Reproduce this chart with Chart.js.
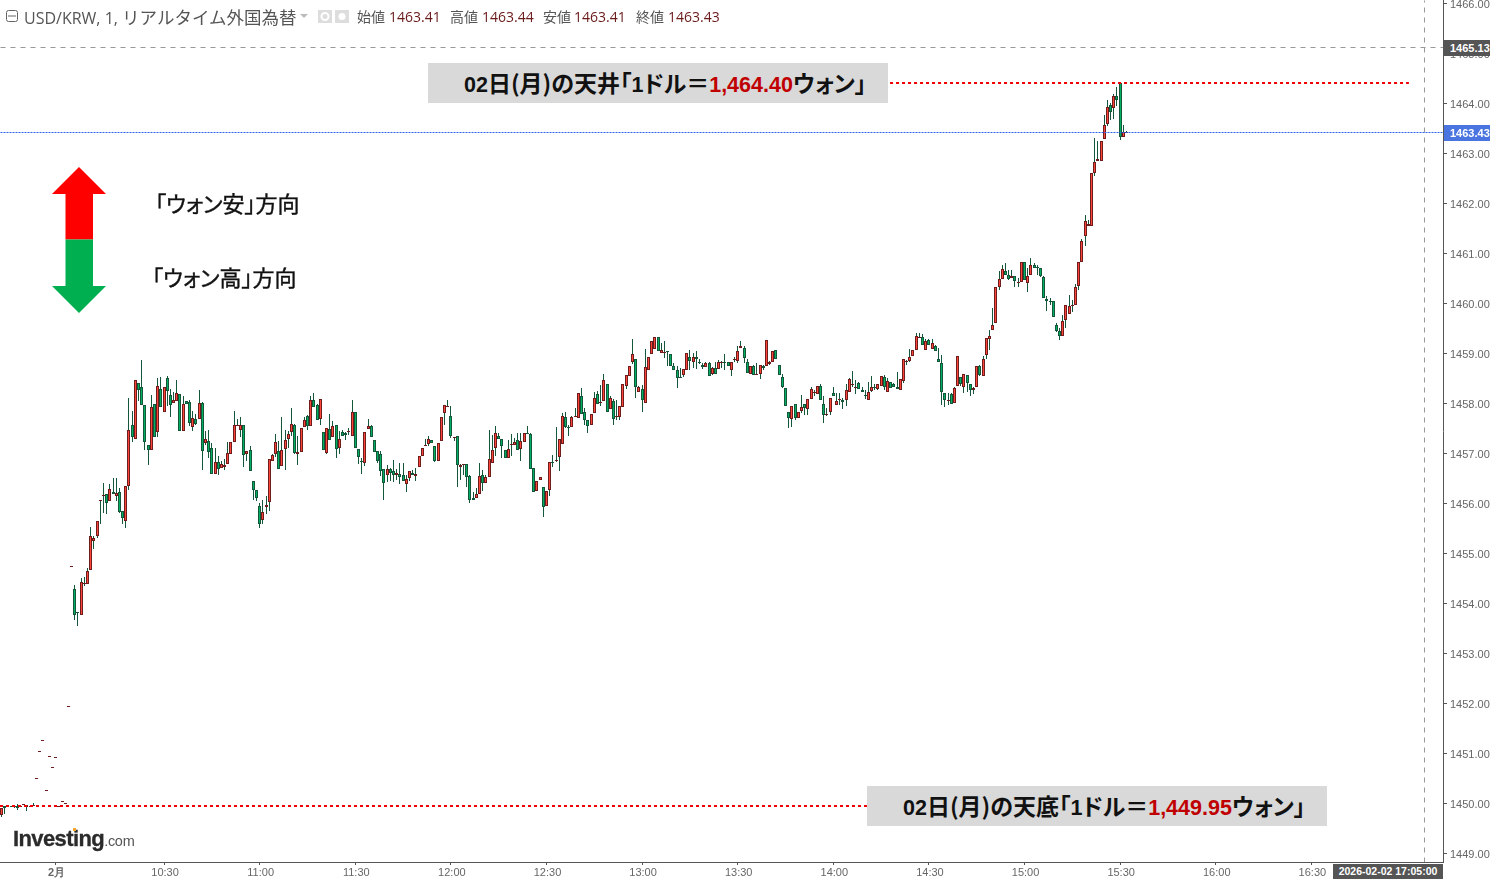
<!DOCTYPE html>
<html lang="ja">
<head>
<meta charset="utf-8">
<title>USD/KRW</title>
<script src="https://cdn.jsdelivr.net/npm/chart.js@4/dist/chart.umd.min.js"></script>
<style>
  html, body { margin: 0; padding: 0; background: #fff; overflow: hidden; }
  #wrap { position: relative; width: 1490px; height: 879px; }
  #chart { position: absolute; left: 0; top: 0; }
  .t { position: absolute; white-space: nowrap; line-height: 1; }
  .head { font: 16px "Open Sans", "Noto Sans CJK JP", sans-serif; color: #555; top: 4px; }
  .head i { font-style: normal; font-size: 17.5px; }
  .lbl { font: 14px "Noto Sans CJK JP", sans-serif; color: #555; top: 6px; }
  .val { font: 14px "Open Sans", sans-serif; color: #6b1a1a; top: 7px; }
  .box { position: absolute; background: #d9d9d9; width: 460px; height: 40px; }
  .note { font: 700 23px "Noto Sans CJK JP", sans-serif; color: #111; font-feature-settings: "palt"; }
  .note b { color: #c00000; font: 700 21.5px "Liberation Sans", sans-serif; }
  .note u { text-decoration: none; font: 700 21.5px "Liberation Sans", sans-serif; }
  .side { font: 400 22px "Noto Sans CJK JP", sans-serif; color: #111; font-feature-settings: "palt"; -webkit-text-stroke: 0.4px #111; }
  .tag { position: absolute; left: 1444px; width: 46px; height: 16px; color: #fff; overflow: hidden;
         font: bold 11px/17px "Liberation Sans", sans-serif; padding-left: 6px; box-sizing: border-box; }
</style>
</head>
<body>
<div id="wrap">
  <canvas id="chart" width="1490" height="879"></canvas>

  <svg class="t" style="left:0;top:0" width="360" height="320" xmlns="http://www.w3.org/2000/svg">
    <rect x="6.5" y="10.5" width="11" height="11" rx="2" fill="none" stroke="#666"/>
    <line x1="8" y1="16" x2="16" y2="16" stroke="#666"/>
    <polygon points="300,14 308,14 304,18" fill="#bbb"/>
    <rect x="318" y="10" width="14" height="13" fill="#ddd"/>
    <circle cx="325" cy="16.5" r="3.5" fill="none" stroke="#fff" stroke-width="2"/>
    <rect x="335" y="10" width="14" height="13" fill="#ddd"/>
    <circle cx="342" cy="16.5" r="3.5" fill="#fff"/>
    <polygon points="79,167 106,194 93,194 93,239.5 65.5,239.5 65.5,194 52,194" fill="#ff0000"/>
    <polygon points="79,313 106,286 93,286 93,239.5 65.5,239.5 65.5,286 52,286" fill="#00b050"/>
  </svg>

  <span class="t head" style="left:24px">USD/KRW, 1, <i>リアルタイム外国為替</i></span>
  <span class="t lbl" style="left:357px">始値</span><span class="t val" style="left:389px">1463.41</span>
  <span class="t lbl" style="left:450px">高値</span><span class="t val" style="left:482px">1463.44</span>
  <span class="t lbl" style="left:543px">安値</span><span class="t val" style="left:574px">1463.41</span>
  <span class="t lbl" style="left:636px">終値</span><span class="t val" style="left:668px">1463.43</span>

  <div class="box" style="left:428px;top:63px"></div>
  <span class="t note" style="left:464px;top:65px"><u>02</u>日(月)の天井「<u>1</u>ドル＝<b>1,464.40</b>ウォン」</span>
  <div class="box" style="left:867px;top:786px"></div>
  <span class="t note" style="left:903px;top:788px"><u>02</u>日(月)の天底「<u>1</u>ドル＝<b>1,449.95</b>ウォン」</span>

  <span class="t side" style="left:155px;top:186px">「ウォン安」方向</span>
  <span class="t side" style="left:152px;top:260px">「ウォン高」方向</span>

  <span class="t" style="left:13px;top:826px;font:bold 22px 'Liberation Sans',sans-serif;letter-spacing:-0.6px;color:#2b2b2b;-webkit-text-stroke:0.3px #2b2b2b">Investing<span style="font:14.5px 'Liberation Sans',sans-serif;letter-spacing:-0.3px;color:#555;-webkit-text-stroke:0">.com</span></span>
  <div class="t" style="left:73px;top:828px;width:3px;height:3px;background:#f5a623"></div>

  <div class="tag" style="top:40px;background:#555">1465.13</div>
  <div class="tag" style="top:125px;background:#4a74e0">1463.43</div>
  <div class="t" style="left:1333px;top:864px;width:110px;height:15px;background:#555;color:#fff;font:bold 10.5px/15px 'Liberation Sans',sans-serif;text-align:center">2026-02-02 17:05:00</div>
</div>

<script>
// 1分足 USD/KRW 02日(月) 画像から読み取り
const opens = [
1449.77,1449.94,1449.92,1449.94,1449.94,1449.94,1449.94,1449.98,1449.92,1449.94,
1449.94,1450.49,1451.03,1451.25,1450.25,1450.93,1450.71,1450.91,1449.94,1450.03,
1449.99,1451.93,1454.73,1454.28,1453.84,1453.76,1454.38,1454.38,1454.66,1455.24,
1455.36,1456.04,1456.15,1456.19,1456.04,1456.22,1456.14,1456.22,1455.85,1455.64,
1456.36,1457.56,1457.28,1458.40,1458.34,1457.96,1457.16,1457.08,1457.98,1457.42,
1458.28,1457.82,1458.50,1458.16,1458.00,1458.04,1458.18,1457.44,1458.04,1458.02,
1457.52,1457.68,1457.68,1458.00,1457.20,1457.24,1457.12,1456.60,1456.84,1456.70,
1456.72,1456.78,1456.98,1457.22,1457.56,1457.46,1457.56,1456.98,1457.06,1456.44,
1456.26,1455.94,1455.66,1455.92,1456.02,1456.86,1456.98,1457.04,1456.74,1457.10,
1457.28,1457.42,1457.58,1456.98,1457.02,1457.52,1457.74,1457.54,1458.06,1457.96,
1457.68,1457.42,1457.00,1457.48,1457.34,1457.56,1457.12,1457.42,1457.40,1457.43,
1457.36,1457.84,1457.10,1456.86,1456.80,1457.48,1457.54,1457.26,1457.05,1456.98,
1456.68,1456.56,1456.68,1456.64,1456.58,1456.60,1456.58,1456.38,1456.50,1456.62,
1456.54,1456.72,1456.94,1457.14,1457.18,1457.26,1457.14,1456.86,1457.24,1457.80,
1457.94,1457.74,1457.32,1457.36,1456.72,1456.77,1456.78,1456.54,1456.12,1456.12,
1456.18,1456.56,1456.40,1456.52,1456.80,1457.12,1457.36,1457.28,1457.08,1456.90,
1457.16,1457.16,1457.26,1457.10,1457.22,1457.40,1457.38,1456.70,1456.24,1456.46,
1456.32,1455.94,1456.26,1456.82,1456.86,1456.92,1457.18,1457.72,1457.52,1457.52,
1457.72,1457.70,1458.14,1457.82,1457.66,1457.56,1457.80,1458.18,1458.00,1458.04,
1458.38,1457.88,1458.04,1457.73,1457.72,1457.92,1458.36,1458.54,1458.84,1458.88,
1458.22,1458.28,1458.00,1458.66,1458.98,1459.10,1459.32,1459.00,1459.01,1459.04,
1458.99,1458.74,1458.66,1458.52,1458.58,1458.66,1458.92,1458.82,1458.92,1458.84,
1458.76,1458.72,1458.80,1458.60,1458.70,1458.68,1458.83,1458.84,1458.82,1458.66,
1458.87,1458.86,1459.12,1459.12,1458.84,1458.60,1458.74,1458.59,1458.60,1458.74,
1458.74,1458.78,1458.82,1459.06,1458.76,1458.52,1458.30,1457.84,1457.68,1457.98,
1457.70,1457.86,1457.98,1457.88,1458.10,1458.20,1458.18,1458.36,1457.98,1457.77,
1457.82,1458.20,1457.96,1458.06,1458.06,1458.06,1458.22,1458.38,1458.32,1458.40,
1458.26,1458.16,1458.08,1458.24,1458.32,1458.28,1458.36,1458.52,1458.22,1458.42,
1458.38,1458.34,1458.26,1458.44,1458.85,1458.86,1458.94,1459.06,1459.30,1459.34,
1459.08,1459.26,1459.10,1459.14,1458.88,1458.80,1458.20,1458.04,1458.18,1458.00,
1458.36,1458.52,1458.34,1458.56,1458.38,1458.26,1458.32,1458.74,1458.54,1458.96,
1459.28,1459.46,1459.62,1460.34,1460.48,1460.64,1460.58,1460.50,1460.54,1460.41,
1460.42,1460.82,1460.40,1460.56,1460.76,1460.72,1460.70,1460.52,1460.10,1460.04,
1460.04,1459.58,1459.44,1459.36,1459.66,1459.78,1459.94,1459.96,1460.36,1460.82,
1461.36,1461.55,1461.55,1462.62,1462.86,1462.86,1463.28,1463.60,1463.96,1463.90,
1464.14,1464.40,1463.32,1463.41];
const highs = [
1449.90,1449.94,1449.96,1449.94,1449.95,1449.98,1449.95,1449.99,1449.96,1449.95,
1450.00,1450.50,1451.04,1451.26,1450.26,1450.94,1450.72,1450.92,1449.95,1450.04,
1450.00,1451.94,1454.74,1454.37,1453.84,1454.50,1454.52,1454.70,1455.52,1455.35,
1455.64,1456.08,1456.40,1456.19,1456.38,1456.50,1456.50,1456.30,1455.85,1456.36,
1458.11,1457.85,1458.46,1458.40,1458.87,1457.96,1457.16,1458.17,1457.98,1458.51,
1458.52,1458.34,1458.55,1458.28,1458.22,1458.46,1458.18,1458.15,1458.04,1458.06,
1457.85,1457.78,1458.27,1458.03,1457.45,1457.47,1457.20,1457.11,1456.94,1456.86,
1456.89,1457.22,1457.22,1457.86,1457.69,1457.72,1457.56,1457.04,1457.14,1456.44,
1456.26,1456.00,1456.06,1456.15,1456.88,1456.99,1457.39,1457.25,1457.73,1457.47,
1457.45,1457.90,1457.60,1457.36,1457.50,1457.72,1457.77,1458.14,1458.20,1457.99,
1458.10,1457.42,1457.50,1457.79,1457.64,1457.58,1457.44,1457.46,1457.43,1457.50,
1458.07,1457.84,1457.10,1456.90,1457.42,1457.68,1457.57,1457.26,1457.05,1457.04,
1456.68,1456.77,1456.70,1456.87,1456.68,1456.80,1456.80,1456.57,1456.64,1456.67,
1456.70,1456.94,1457.12,1457.28,1457.35,1457.26,1457.14,1457.20,1457.72,1457.96,
1458.08,1457.95,1457.34,1457.36,1456.78,1456.78,1456.78,1456.57,1456.22,1456.30,
1456.80,1456.67,1456.57,1457.47,1457.37,1457.55,1457.40,1457.28,1457.08,1457.27,
1457.39,1457.30,1457.40,1457.40,1457.40,1457.55,1457.40,1456.70,1456.44,1456.52,
1456.32,1456.24,1456.84,1456.97,1457.53,1457.28,1457.80,1457.82,1457.57,1457.75,
1457.90,1458.20,1458.30,1457.90,1457.66,1457.78,1458.23,1458.24,1458.37,1458.60,
1458.38,1458.14,1458.10,1458.08,1457.94,1458.38,1458.58,1458.74,1459.28,1458.88,
1458.36,1458.37,1459.10,1458.92,1459.24,1459.32,1459.32,1459.20,1459.25,1459.05,
1458.99,1458.80,1458.74,1458.70,1458.68,1459.00,1459.08,1459.00,1459.04,1458.88,
1458.80,1458.84,1458.82,1458.72,1458.82,1458.87,1458.86,1458.99,1458.84,1458.82,
1458.92,1459.14,1459.25,1459.14,1458.88,1458.74,1458.76,1458.80,1458.76,1458.76,
1459.26,1458.86,1459.04,1459.08,1458.76,1458.60,1458.30,1457.84,1457.94,1457.98,
1457.84,1458.17,1457.98,1458.10,1458.34,1458.26,1458.36,1458.38,1458.14,1457.90,
1458.12,1458.33,1458.20,1458.20,1458.12,1458.38,1458.50,1458.65,1458.46,1458.42,
1458.32,1458.27,1458.42,1458.55,1458.38,1458.38,1458.54,1458.56,1458.50,1458.42,
1458.40,1458.63,1458.48,1458.88,1458.87,1459.10,1459.06,1459.40,1459.40,1459.38,
1459.28,1459.28,1459.28,1459.16,1459.12,1458.96,1458.20,1458.20,1458.20,1458.32,
1458.94,1458.52,1458.60,1458.58,1458.38,1458.32,1458.74,1458.76,1458.94,1459.30,
1459.46,1459.90,1460.32,1460.64,1460.77,1460.80,1460.67,1460.66,1460.54,1460.50,
1460.84,1460.84,1460.70,1460.90,1460.80,1460.77,1460.70,1460.54,1460.15,1460.12,
1460.04,1459.62,1459.50,1459.76,1459.96,1460.16,1460.08,1460.39,1460.82,1461.29,
1461.77,1461.67,1462.62,1463.30,1463.25,1463.24,1463.76,1464.07,1464.00,1464.18,
1464.32,1464.40,1463.56,1463.44];
const lows = [
1449.73,1449.79,1449.92,1449.92,1449.90,1449.87,1449.94,1449.98,1449.86,1449.94,
1449.94,1450.49,1451.03,1451.25,1450.25,1450.93,1450.71,1450.91,1449.94,1450.03,
1449.99,1451.93,1454.73,1453.67,1453.55,1453.76,1454.35,1454.38,1454.66,1455.09,
1455.30,1455.60,1455.80,1455.78,1456.04,1456.18,1456.04,1455.80,1455.60,1455.50,
1456.27,1457.22,1457.28,1458.04,1457.96,1457.06,1456.76,1457.08,1457.34,1457.34,
1457.92,1457.82,1457.94,1457.72,1458.00,1458.04,1457.44,1457.44,1457.98,1457.55,
1457.45,1457.58,1457.68,1456.67,1457.16,1456.90,1456.60,1456.60,1456.56,1456.70,
1456.67,1456.78,1456.98,1457.22,1457.56,1457.34,1456.72,1456.85,1456.64,1456.06,
1456.05,1455.50,1455.59,1455.78,1455.86,1456.86,1456.92,1456.68,1456.74,1456.66,
1457.12,1457.35,1456.98,1456.77,1457.02,1457.52,1457.47,1457.54,1457.92,1457.66,
1457.57,1457.06,1456.98,1457.26,1457.34,1456.91,1456.98,1457.35,1457.26,1457.37,
1457.36,1457.12,1456.79,1456.60,1456.74,1457.48,1457.32,1457.02,1456.80,1456.55,
1456.06,1456.42,1456.44,1456.42,1456.46,1456.39,1456.44,1456.22,1456.44,1456.56,
1456.44,1456.72,1456.94,1457.14,1457.14,1457.20,1456.84,1456.86,1457.24,1457.57,
1457.94,1457.30,1457.24,1456.32,1456.46,1456.57,1456.34,1456.00,1456.08,1456.12,
1456.18,1456.24,1456.40,1456.52,1456.80,1456.95,1457.28,1456.90,1456.90,1456.90,
1456.94,1457.16,1457.08,1456.86,1457.22,1457.39,1456.68,1456.22,1456.24,1456.46,
1455.72,1455.94,1456.14,1456.72,1456.84,1456.64,1457.18,1457.50,1457.36,1457.52,
1457.72,1457.70,1457.78,1457.57,1457.40,1457.56,1457.80,1457.98,1457.95,1458.04,
1457.84,1457.88,1457.58,1457.66,1457.66,1457.92,1458.28,1458.54,1458.78,1458.12,
1458.22,1457.84,1458.00,1458.66,1458.98,1459.10,1459.04,1459.00,1458.90,1458.75,
1458.74,1458.66,1458.30,1458.50,1458.52,1458.66,1458.67,1458.70,1458.68,1458.78,
1458.68,1458.72,1458.54,1458.56,1458.60,1458.68,1458.70,1458.66,1458.74,1458.55,
1458.82,1458.80,1459.12,1458.80,1458.62,1458.60,1458.56,1458.59,1458.49,1458.66,
1458.74,1458.76,1458.82,1458.88,1458.56,1458.30,1457.94,1457.50,1457.52,1457.66,
1457.70,1457.80,1457.76,1457.76,1458.10,1458.14,1458.18,1458.06,1457.62,1457.74,
1457.76,1458.14,1457.96,1457.96,1457.88,1457.94,1458.22,1458.33,1458.18,1458.28,
1458.22,1458.09,1458.06,1458.22,1458.26,1458.26,1458.36,1458.26,1458.22,1458.30,
1458.32,1458.28,1458.26,1458.40,1458.76,1458.84,1458.94,1459.06,1459.30,1459.16,
1459.08,1459.16,1459.10,1459.04,1458.82,1457.96,1457.92,1457.96,1457.98,1458.00,
1458.36,1458.36,1458.21,1458.22,1458.14,1458.18,1458.32,1458.54,1458.54,1458.88,
1459.06,1459.46,1459.62,1460.26,1460.48,1460.56,1460.46,1460.50,1460.32,1460.32,
1460.42,1460.46,1460.22,1460.56,1460.70,1460.57,1460.52,1460.12,1459.86,1459.96,
1459.72,1459.42,1459.26,1459.36,1459.50,1459.78,1459.84,1459.96,1460.27,1460.82,
1461.14,1461.55,1461.55,1462.55,1462.86,1462.86,1463.28,1463.54,1463.67,1463.68,
1463.95,1463.26,1463.32,1463.41];
const closes = [
1449.90,1449.90,1449.96,1449.92,1449.95,1449.90,1449.95,1449.99,1449.96,1449.95,
1449.97,1450.50,1451.04,1451.26,1450.26,1450.94,1450.72,1450.92,1449.95,1450.04,
1450.00,1451.94,1454.74,1453.76,1453.82,1454.42,1454.40,1454.64,1455.36,1455.30,
1455.64,1456.08,1456.16,1456.00,1456.28,1456.18,1456.20,1455.84,1455.70,1456.36,
1457.46,1457.32,1458.46,1458.26,1457.96,1457.22,1457.08,1457.92,1457.34,1458.36,
1457.92,1458.34,1458.25,1457.96,1458.06,1458.20,1457.44,1457.98,1457.98,1457.62,
1457.70,1457.60,1458.00,1457.04,1457.28,1457.02,1456.60,1456.82,1456.68,1456.78,
1456.77,1457.00,1457.22,1457.58,1457.58,1457.58,1456.96,1457.04,1456.64,1456.26,
1456.12,1455.60,1455.84,1455.96,1456.88,1456.96,1457.22,1456.68,1457.06,1457.26,
1457.38,1457.60,1457.00,1457.02,1457.50,1457.66,1457.54,1458.08,1457.92,1457.66,
1458.10,1457.06,1457.50,1457.26,1457.54,1457.10,1457.28,1457.35,1457.37,1457.44,
1457.84,1457.12,1456.92,1456.82,1457.42,1457.54,1457.32,1457.02,1456.86,1456.64,
1456.40,1456.68,1456.62,1456.58,1456.62,1456.52,1456.44,1456.48,1456.64,1456.56,
1456.60,1456.94,1457.12,1457.16,1457.28,1457.20,1456.86,1457.20,1457.72,1457.96,
1457.95,1457.36,1457.34,1456.76,1456.76,1456.78,1456.52,1456.08,1456.08,1456.18,
1456.54,1456.40,1456.52,1456.88,1457.08,1457.40,1457.28,1457.14,1456.90,1457.10,
1457.18,1457.22,1457.08,1457.24,1457.40,1457.39,1456.68,1456.22,1456.44,1456.52,
1455.92,1456.24,1456.84,1456.80,1456.87,1457.28,1457.74,1457.52,1457.50,1457.72,
1457.75,1458.20,1457.78,1457.67,1457.54,1457.78,1458.12,1457.98,1458.02,1458.46,
1457.84,1458.12,1457.68,1457.74,1457.94,1458.38,1458.58,1458.74,1458.98,1458.32,
1458.34,1458.08,1458.72,1458.92,1459.24,1459.32,1459.04,1459.06,1459.02,1459.03,
1458.74,1458.66,1458.50,1458.50,1458.68,1459.00,1458.86,1458.92,1458.88,1458.80,
1458.72,1458.80,1458.54,1458.70,1458.60,1458.82,1458.84,1458.82,1458.74,1458.82,
1458.88,1459.04,1459.14,1458.90,1458.62,1458.74,1458.56,1458.60,1458.76,1458.70,
1459.26,1458.82,1459.04,1458.88,1458.56,1458.34,1457.94,1457.70,1457.94,1457.70,
1457.84,1457.92,1457.90,1458.10,1458.28,1458.22,1458.36,1458.06,1457.76,1457.78,
1458.12,1458.14,1458.04,1458.10,1458.02,1458.26,1458.48,1458.39,1458.34,1458.28,
1458.22,1458.14,1458.22,1458.32,1458.30,1458.38,1458.54,1458.34,1458.44,1458.30,
1458.34,1458.28,1458.48,1458.88,1458.86,1458.92,1459.06,1459.36,1459.34,1459.16,
1459.24,1459.16,1459.20,1459.04,1458.84,1458.22,1458.06,1458.08,1457.98,1458.30,
1458.94,1458.38,1458.60,1458.40,1458.26,1458.30,1458.74,1458.56,1458.88,1459.30,
1459.36,1459.56,1460.32,1460.48,1460.68,1460.56,1460.48,1460.54,1460.44,1460.42,
1460.84,1460.46,1460.54,1460.76,1460.70,1460.71,1460.54,1460.12,1460.04,1460.03,
1459.72,1459.44,1459.36,1459.64,1459.96,1459.94,1459.96,1460.34,1460.82,1461.24,
1461.64,1461.60,1462.62,1462.84,1462.88,1463.24,1463.58,1463.92,1463.84,1464.14,
1464.08,1463.34,1463.42,1463.43];

// 目盛り
const priceTicks = [1449,1450,1451,1452,1453,1454,1455,1456,1457,1458,1459,1460,1461,1462,1463,1464,1465,1466];
const timeTickIndex = [17,51,81,111,141,171,201,231,261,291,321,351,381,411];
const timeTickLabels = ['2月','10:30','11:00','11:30','12:00','12:30','13:00','13:30','14:00','14:30','15:00','15:30','16:00','16:30'];

// 水平線・カーソル
const ceilingPrice = 1464.40;
const floorPrice = 1449.95;
const lastPrice = 1463.43;
const cursorPrice = 1465.13;
const cursorIndex = 446.5;
const xMin = -0.47, xMax = 452.3;
const yMin = 1448.83, yMax = 1466.07;

const UP_FILL = '#ff4438', UP_EDGE = '#6e1c1c';
const DOWN_FILL = '#00b060', DOWN_EDGE = '#14563a';
const WICK = '#14563a';

const wickData = highs.map((h, i) => ({ x: i, y: [lows[i], h] }));
const bodyData = opens.map((o, i) => ({ x: i, y: [o, closes[i]] }));

function hLine(price, from, to, color, width, dash) {
    return {
        type: 'line', order: 0,
        data: [{ x: from, y: price }, { x: to, y: price }],
        borderColor: color, borderWidth: width, borderDash: dash,
        pointRadius: 0, tension: 0
    };
}

// ローソク足と線をピクセルに揃える
const snapPlugin = {
    id: 'snap',
    afterDatasetsUpdate(chart) {
        chart.data.datasets.forEach((ds, d) => {
            const meta = chart.getDatasetMeta(d);
            meta.data.forEach(el => {
                if (meta.type === 'bar') {
                    el.x = Math.floor(el.x) + 0.5;
                    const top = Math.round(Math.min(el.y, el.base));
                    let bottom = Math.round(Math.max(el.y, el.base));
                    if (bottom <= top) bottom = top + 1;
                    el.y = top;
                    el.base = bottom;
                    el.height = bottom - top;
                } else if (ds.borderWidth === 2) {
                    el.y = Math.round(el.y);
                } else {
                    el.x = Math.floor(el.x) + 0.5;
                    el.y = Math.round(el.y) + 0.5;
                }
            });
        });
    }
};

new Chart(document.getElementById('chart').getContext('2d'), {
    type: 'bar',
    data: {
        datasets: [
            hLine(ceilingPrice, 278.8, 441.6, '#f00000', 2, [3, 3]),
            hLine(floorPrice, xMin, 271.6, '#f00000', 2, [3, 3]),
            hLine(lastPrice, xMin, xMax, '#2a62f0', 1, [2, 1]),
            hLine(cursorPrice, xMin, xMax, '#999999', 1, [5, 5]),
            {
                type: 'line', order: 0,
                data: [{ x: cursorIndex, y: yMin }, { x: cursorIndex, y: yMax }],
                borderColor: '#999999', borderWidth: 1, borderDash: [5, 5],
                pointRadius: 0, tension: 0
            },
            {
                order: 1,
                data: bodyData,
                barThickness: 3,
                borderWidth: 1,
                borderSkipped: false,
                inflateAmount: 0,
                backgroundColor: c => closes[c.dataIndex] >= opens[c.dataIndex] ? UP_FILL : DOWN_FILL,
                borderColor: c => closes[c.dataIndex] >= opens[c.dataIndex] ? UP_EDGE : DOWN_EDGE
            },
            {
                order: 2,
                data: wickData,
                barThickness: 1,
                borderWidth: 0,
                inflateAmount: 0,
                backgroundColor: WICK
            }
        ]
    },
    options: {
        responsive: false,
        animation: false,
        devicePixelRatio: 1,
        layout: { padding: 0 },
        datasets: { bar: { grouped: false } },
        plugins: { legend: { display: false }, tooltip: { enabled: false }, title: { display: false } },
        events: [],
        scales: {
            x: {
                type: 'linear', min: xMin, max: xMax, offset: false,
                afterFit: s => { s.height = 17; s.paddingLeft = 0; s.paddingRight = 0; },
                afterBuildTicks: s => { s.ticks = timeTickIndex.map(v => ({ value: v })); },
                grid: { offset: false, drawOnChartArea: false, drawTicks: true, tickLength: 3, color: '#555' },
                border: { color: '#555', width: 1 },
                ticks: {
                    autoSkip: false, maxRotation: 0, padding: 1, labelOffset: 1, color: '#666',
                    font: c => ({ family: 'Liberation Sans', size: 11, weight: c.tick && c.tick.value === 17 ? 'bold' : 'normal' }),
                    callback: v => timeTickLabels[timeTickIndex.indexOf(v)]
                }
            },
            y: {
                position: 'right', min: yMin, max: yMax,
                afterFit: s => { s.width = 47; s.paddingTop = 0; s.paddingBottom = 0; },
                afterBuildTicks: s => { s.ticks = priceTicks.map(v => ({ value: v })); },
                grid: { drawOnChartArea: false, drawTicks: true, tickLength: 4, color: '#555' },
                border: { color: '#555', width: 1 },
                ticks: {
                    padding: 3, labelOffset: 1, color: '#666',
                    font: { family: 'Liberation Sans', size: 11 },
                    callback: v => v.toFixed(2)
                }
            }
        }
    },
    plugins: [snapPlugin]
});
</script>
</body>
</html>
